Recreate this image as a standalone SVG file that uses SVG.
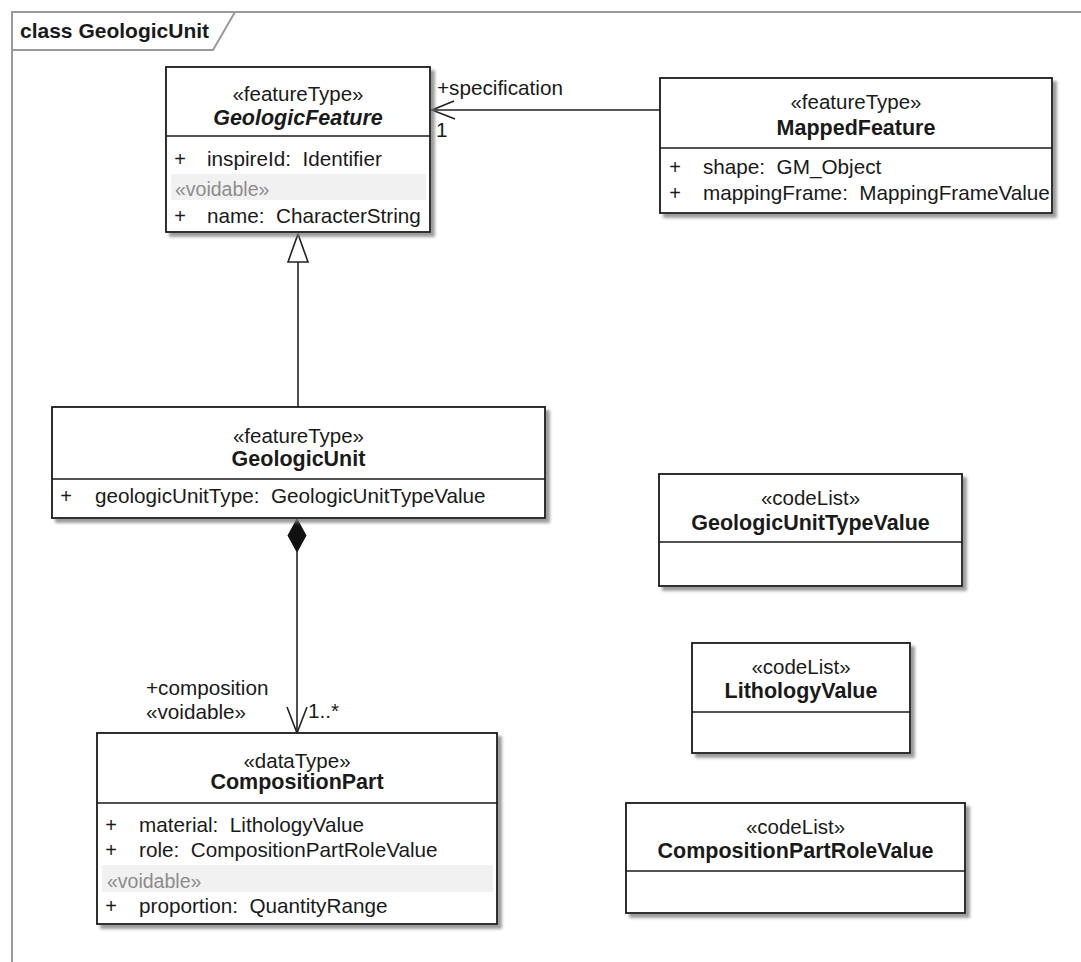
<svg xmlns="http://www.w3.org/2000/svg" width="1081" height="962" viewBox="0 0 1081 962">
<defs>
<filter id="sh" x="-5%" y="-5%" width="115%" height="120%">
<feDropShadow dx="4" dy="4" stdDeviation="1.6" flood-color="#7a7a7a" flood-opacity="0.75"/>
</filter>
<style>
text{font-family:"Liberation Sans",Arial,sans-serif;fill:#1a1a1a;}
.box{fill:#fff;stroke:#1a1a1a;stroke-width:1.8;filter:url(#sh);}
.div{stroke:#1a1a1a;stroke-width:1.6;}
.st{font-size:20.5px;text-anchor:middle;}
.nm{font-size:21.5px;font-weight:bold;text-anchor:middle;}
.it{font-style:italic;}
.at{font-size:20.7px;white-space:pre;}
.pl{font-size:20px;text-anchor:middle;}
.vd{font-size:19.5px;fill:#8c8c8c;}
.band{fill:#f1f1f1;}
.ln{fill:none;stroke:#222;stroke-width:1.6;}
.lb{font-size:20.7px;}
.frame{fill:none;stroke:#9a9a9a;stroke-width:2;}
</style>
</defs>
<rect width="1081" height="962" fill="#fff"/>
<g id="frame">
<path class="frame" d="M12,962 L12,12 L1081,12"/>
<path class="frame" d="M12,50 L213,50 L235,12"/>
<text x="20" y="38" style="font-size:21px;font-weight:bold">class GeologicUnit</text>
</g>
<g id="connectors">
<path class="ln" d="M430,110 L660,110"/>
<path class="ln" d="M454,101 L432,110 L455,119"/>
<text class="lb" x="437" y="95">+specification</text>
<text class="lb" x="436" y="137">1</text>
<path class="ln" d="M298,262 L298,407"/>
<path d="M298,234 L308,262 L288,262 Z" fill="#fff" stroke="#222" stroke-width="1.6"/>
<path class="ln" d="M297,552 L297,733"/>
<path d="M297,519 L306,535.5 L297,552 L288,535.5 Z" fill="#111" stroke="#111" stroke-width="1"/>
<path class="ln" d="M287,707 L297,733 L307,707"/>
<text class="lb" x="146" y="695">+composition</text>
<text class="lb" x="146" y="719">«voidable»</text>
<text class="lb" x="308" y="718">1..*</text>
</g>
<g id="GeologicFeature">
<rect class="box" x="166" y="67" width="264" height="165"/>
<line class="div" x1="166" y1="136" x2="430" y2="136"/>
<text class="st" x="298" y="101">«featureType»</text>
<text class="nm it" x="298" y="125">GeologicFeature</text>
<text class="pl" x="180" y="166">+</text>
<text class="at" x="207" y="166">inspireId:  Identifier</text>
<rect class="band" x="171" y="174" width="255" height="26"/>
<text class="vd" x="175" y="196">«voidable»</text>
<text class="pl" x="180" y="223">+</text>
<text class="at" x="207" y="223">name:  CharacterString</text>
</g>
<g id="MappedFeature">
<rect class="box" x="660" y="78" width="392" height="135"/>
<line class="div" x1="660" y1="148" x2="1052" y2="148"/>
<text class="st" x="856" y="109">«featureType»</text>
<text class="nm" x="856" y="135">MappedFeature</text>
<text class="pl" x="675" y="174">+</text>
<text class="at" x="703" y="174">shape:  GM_Object</text>
<text class="pl" x="675" y="200">+</text>
<text class="at" x="703" y="200">mappingFrame:  MappingFrameValue</text>
</g>
<g id="GeologicUnit">
<rect class="box" x="52" y="407" width="493" height="111"/>
<line class="div" x1="52" y1="479" x2="545" y2="479"/>
<text class="st" x="298.5" y="443">«featureType»</text>
<text class="nm" x="298.5" y="466">GeologicUnit</text>
<text class="pl" x="66" y="503">+</text>
<text class="at" x="95" y="503">geologicUnitType:  GeologicUnitTypeValue</text>
</g>
<g id="CompositionPart">
<rect class="box" x="97" y="733" width="400" height="191"/>
<line class="div" x1="97" y1="803" x2="497" y2="803"/>
<text class="st" x="297" y="768">«dataType»</text>
<text class="nm" x="297" y="789">CompositionPart</text>
<text class="pl" x="111" y="832">+</text>
<text class="at" x="139" y="832">material:  LithologyValue</text>
<text class="pl" x="111" y="857">+</text>
<text class="at" x="139" y="857">role:  CompositionPartRoleValue</text>
<rect class="band" x="102" y="865" width="391" height="27"/>
<text class="vd" x="107" y="888">«voidable»</text>
<text class="pl" x="111" y="913">+</text>
<text class="at" x="139" y="913">proportion:  QuantityRange</text>
</g>
<g id="GeologicUnitTypeValue">
<rect class="box" x="659" y="474" width="303" height="112"/>
<line class="div" x1="659" y1="542" x2="962" y2="542"/>
<text class="st" x="810.5" y="505">«codeList»</text>
<text class="nm" x="810.5" y="530">GeologicUnitTypeValue</text>
</g>
<g id="LithologyValue">
<rect class="box" x="692" y="643" width="218" height="110"/>
<line class="div" x1="692" y1="712" x2="910" y2="712"/>
<text class="st" x="801" y="674">«codeList»</text>
<text class="nm" x="801" y="698">LithologyValue</text>
</g>
<g id="CompositionPartRoleValue">
<rect class="box" x="626" y="803" width="339" height="110"/>
<line class="div" x1="626" y1="871" x2="965" y2="871"/>
<text class="st" x="795.5" y="834">«codeList»</text>
<text class="nm" x="795.5" y="858">CompositionPartRoleValue</text>
</g>
</svg>
